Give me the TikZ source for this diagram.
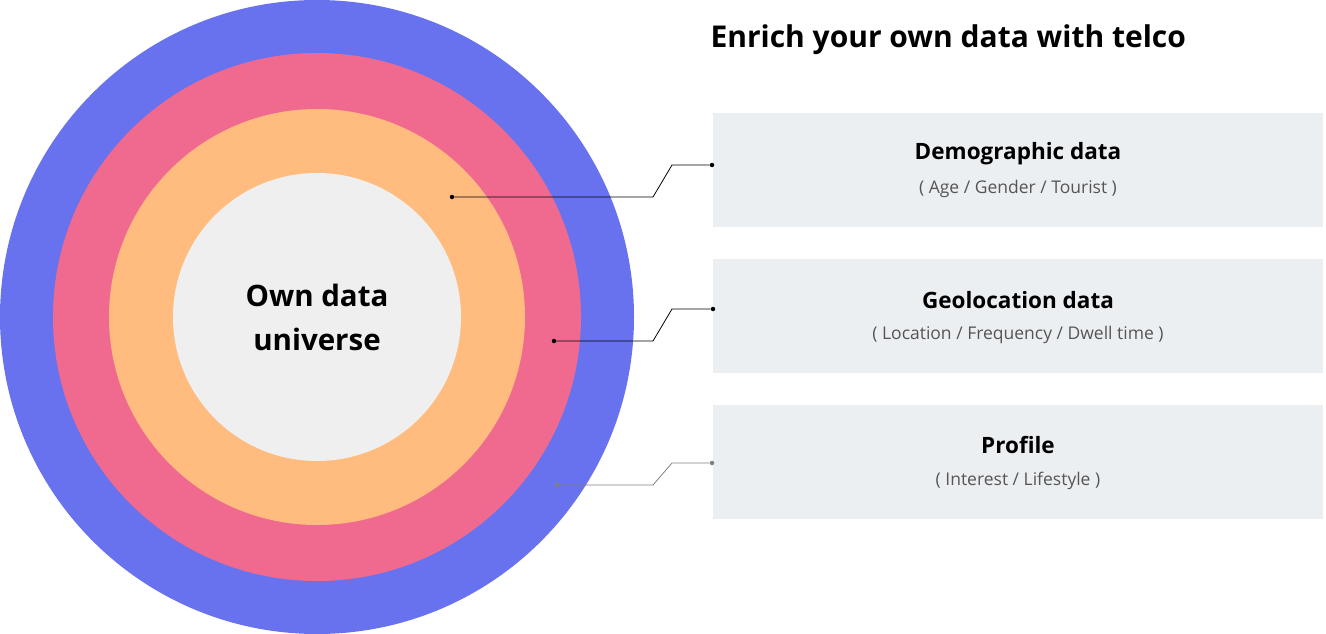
\documentclass[tikz,border=0pt]{standalone}
\usepackage{fontspec}
\setmainfont{Open Sans}
\definecolor{ringblue}{HTML}{6872EE}
\definecolor{ringpink}{HTML}{F06A8F}
\definecolor{ringorange}{HTML}{FFBC7E}
\definecolor{ringgrey}{HTML}{EFEFEF}
\definecolor{boxgrey}{HTML}{ECEFF2}
\definecolor{subgrey}{HTML}{555555}
\tikzset{
  ring/.style={circle, minimum size=#1, inner sep=0pt},
  infobox/.style={fill=boxgrey, minimum width=610pt, minimum height=114pt, inner sep=0pt},
  boxtitle/.style={font=\fontsize{22.5}{26}\selectfont\bfseries},
  boxsub/.style={font=\fontsize{17.5}{20}\selectfont, text=subgrey},
  link/.style={line width=0.8pt},
  dot/.style={circle, fill, inner sep=0pt, minimum size=4.5pt},
}
\begin{document}
\begin{tikzpicture}[x=1pt, y=-1pt]
  \useasboundingbox (0,0) rectangle (1326,634);
  % rings
  \node [ring=634pt, fill=ringblue] (blue) at (317,317) {};
  \node [ring=528pt, fill=ringpink] (pink) at (317,317) {};
  \node [ring=416pt, fill=ringorange] (orange) at (317,317) {};
  \node [ring=288pt, fill=ringgrey, align=center, font=\fontsize{29.5}{44}\selectfont\bfseries] (own) at (317,317) {Own data\\universe};
  % title
  \node [anchor=west, font=\fontsize{30}{36}\selectfont\bfseries] (title) at (707,40) {Enrich your own data with telco};
  % boxes
  \node [infobox, anchor=north west] (demo) at (713,113) {};
  \node [boxtitle] (demotitle) at (1018,154) {Demographic data};
  \node [boxsub] (demosub) at (1018,189) {( Age / Gender / Tourist )};
  \node [infobox, anchor=north west] (geo) at (713,259) {};
  \node [boxtitle] (geotitle) at (1018,300) {Geolocation data};
  \node [boxsub] (geosub) at (1018,335) {( Location / Frequency / Dwell time )};
  \node [infobox, anchor=north west] (prof) at (713,405) {};
  \node [boxtitle] (proftitle) at (1018,445) {Profile};
  \node [boxsub] (profsub) at (1018,481) {( Interest / Lifestyle )};
  % connectors
  \node [dot] (a1) at (452,197) {};
  \node [dot] (a2) at (712,165) {};
  \node [dot] (b1) at (554,341) {};
  \node [dot] (b2) at (713,309) {};
  \node [dot, text=gray, fill=gray] (c1) at (557,485) {};
  \node [dot, text=gray, fill=gray] (c2) at (712,463) {};
  \draw [link] (a1) -- (653,197) -- (672,165) -- (a2);
  \draw [link] (b1) -- (653,341) -- (672,309) -- (b2);
  \draw [link, gray] (c1) -- (653,485) -- (672,463) -- (c2);
\end{tikzpicture}
\end{document}
